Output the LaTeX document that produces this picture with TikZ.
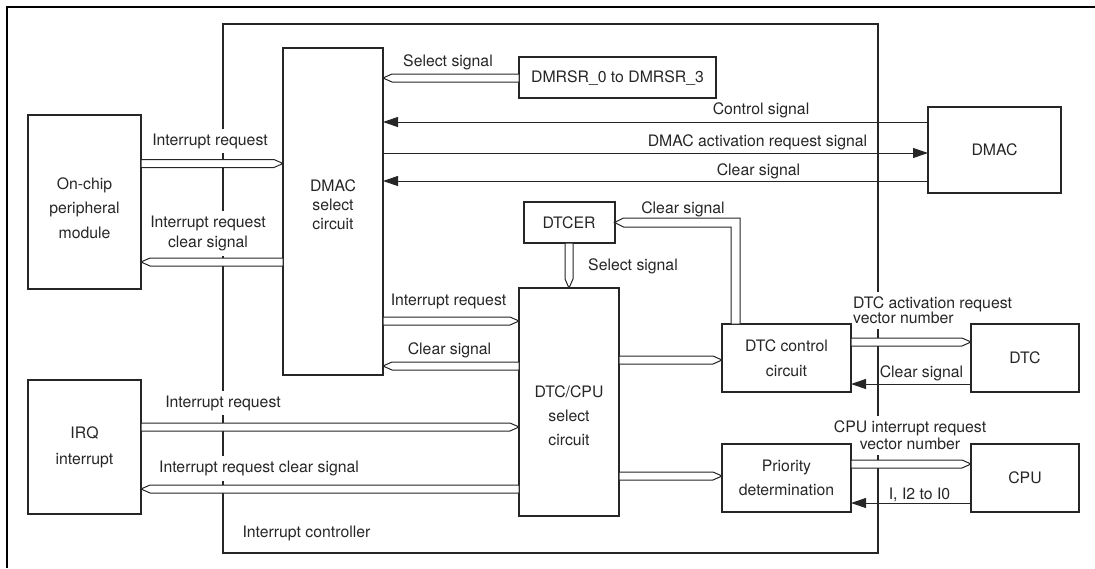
\documentclass[tikz,border=0pt]{standalone}
\usepackage{fontspec}
\setmainfont{TeX Gyre Heros}
\usetikzlibrary{arrows.meta,positioning,calc}

\begin{document}
\begin{tikzpicture}[
        x=1pt, y=-1pt,
        font=\fontsize{15.8}{19}\selectfont,
        box/.style={draw=black!85, line width=2pt, align=center, inner sep=0pt, outer sep=0pt, text=black!85},
        boxtext/.style={align=center, text=black!85},
        lbl/.style={fill=white, inner xsep=3pt, inner ysep=5pt, text=black!85},
        sig/.style={draw=black!85, line width=1pt, -{Triangle[length=15pt,width=10pt]}},
        bus/.style={draw=black!85, fill=white, line width=1pt, line join=miter,
            to path={($(\tikztostart)!4pt!90:(\tikztotarget)$)
                -- ($(\tikztotarget)!9pt!(\tikztostart)!4pt!-90:(\tikztostart)$)
                -- (\tikztotarget)
                -- ($(\tikztotarget)!9pt!(\tikztostart)!4pt!90:(\tikztostart)$)
                -- ($(\tikztostart)!4pt!-90:(\tikztotarget)$) -- cycle}},
        frame/.style={draw=black, line width=2.5pt}
    ]
    \useasboundingbox (0,0) rectangle (1095,568);
    \draw[frame] (1095,7) -| (7,568);

    \node[box, minimum width=655pt, minimum height=529pt] (ctrl) at (550.5,288.5) {};
    \node[anchor=west, text=black!85] (ctrllbl) at (239,533.5) {Interrupt controller};

    \node[lbl] (selsiga) at (448,62) {Select signal};
    \node[lbl] (ctrlsig) at (761,110) {Control signal};
    \node[lbl] (dmacreq) at (757.5,142) {DMAC activation request signal};
    \node[lbl] (clrsiga) at (758.5,171) {Clear signal};
    \node[lbl] (intreqa) at (210,141) {Interrupt request};
    \node[lbl, align=center, font=\fontsize{15.8}{20}\selectfont] (intclra) at (208,233.5) {Interrupt request\\clear signal};
    \node[lbl] (intreqb) at (448.5,301) {Interrupt request};
    \node[lbl] (clrsigb) at (449.5,350) {Clear signal};
    \node[lbl] (selsigb) at (633,266.5) {Select signal};
    \node[lbl] (clrsigc) at (683,209.5) {Clear signal};
    \node[lbl, anchor=west, align=left, font=\fontsize{15.8}{15}\selectfont] (dtcreq) at (850,310.5) {DTC activation request\\vector number};
    \node[lbl, fill=none] (clrsigd) at (921.5,373) {Clear signal};
    \node[lbl] (intreqc) at (223,403) {Interrupt request};
    \node[lbl] (intclrc) at (259,468.5) {Interrupt request clear signal};
    \node[lbl, align=center, font=\fontsize{15.8}{17}\selectfont] (cpureq) at (910,435.5) {CPU interrupt request\\vector number};
    \node[lbl] (ilevel) at (919.5,495) {I, I2 to I0};

    \node[box, minimum width=113pt, minimum height=174pt,
        label={[boxtext, yshift=-6pt, font=\fontsize{15.8}{24.5}\selectfont]center:On-chip\\peripheral\\module}] (onchip) at (84.5,202) {};
    \node[box, minimum width=113pt, minimum height=134pt, font=\fontsize{15.8}{26}\selectfont, below=91pt of onchip] (irq) {IRQ\\interrupt};
    \node[box, minimum width=100pt, minimum height=327pt,
        label={[boxtext, yshift=7pt]center:DMAC\\select\\circuit}] (dmacsel) at (333,211.5) {};
    \node[box, minimum width=197pt, minimum height=41pt] (dmrsr) at (617.5,77.5) {DMRSR\_0 to DMRSR\_3};
    \node[box, minimum width=133pt, minimum height=86pt] (dmac) at (994.5,150) {DMAC};
    \node[box, minimum width=100pt, minimum height=228pt,
        label={[boxtext, yshift=-14pt, font=\fontsize{15.8}{24}\selectfont]center:DTC/CPU\\select\\circuit}] (dtccpu) at (569,402) {};
    \node[box, minimum width=91pt, minimum height=41pt, above=45pt of dtccpu] (dtcer) {DTCER};
    \node[box, minimum width=129pt, minimum height=68pt, font=\fontsize{15.8}{25}\selectfont] (dtcctl) at (786.5,358) {DTC control\\circuit};
    \node[box, minimum width=129pt, minimum height=68pt, font=\fontsize{15.8}{24}\selectfont, below=52pt of dtcctl] (prio) {Priority\\determination};
    \node[box, minimum width=108pt, minimum height=68pt, right=120pt of dtcctl] (dtc) {DTC};
    \node[box, minimum width=108pt, minimum height=68pt, right=120pt of prio] (cpu) {CPU};

    \draw[sig] (dmac.west |- 0,122) -- (dmacsel.east |- 0,122);
    \draw[sig] (dmacsel.east |- 0,153) -- (dmac.west |- 0,153);
    \draw[sig] (dmac.west |- 0,181) -- (dmacsel.east |- 0,181);
    \draw[sig] (dtc.west |- 0,384) -- (dtcctl.east |- 0,384);
    \draw[sig] (cpu.west |- 0,503) -- (prio.east |- 0,503);

    \draw[bus] (dmrsr.west |- 0,78) to (dmacsel.east |- 0,78);
    \draw[bus] (onchip.east |- 0,163.5) to (dmacsel.west |- 0,163.5);
    \draw[bus] (dmacsel.west |- 0,262) to (onchip.east |- 0,262);
    \draw[bus] (dmacsel.east |- 0,321) to (dtccpu.west |- 0,321);
    \draw[bus] (dtccpu.west |- 0,366) to (dmacsel.east |- 0,366);
    \draw[bus] (dtcer.south) to (dtcer.south |- dtccpu.north);
    \draw[bus] ([xshift=9pt]dtcctl.north west) |- ([xshift=9pt,yshift=-4.5pt]dtcer.east) -- (dtcer.east)
        -- ([xshift=9pt,yshift=4.5pt]dtcer.east) -| ([xshift=18pt]dtcctl.north west) -- cycle;
    \draw[bus] (dtccpu.east |- 0,360) to (dtcctl.west |- 0,360);
    \draw[bus] (dtcctl.east |- 0,342) to (dtc.west |- 0,342);
    \draw[bus] (irq.east |- 0,427) to (dtccpu.west |- 0,427);
    \draw[bus] (dtccpu.west |- 0,489) to (irq.east |- 0,489);
    \draw[bus] (dtccpu.east |- 0,476) to (prio.west |- 0,476);
    \draw[bus] (prio.east |- 0,464) to (cpu.west |- 0,464);
\end{tikzpicture}
\end{document}
